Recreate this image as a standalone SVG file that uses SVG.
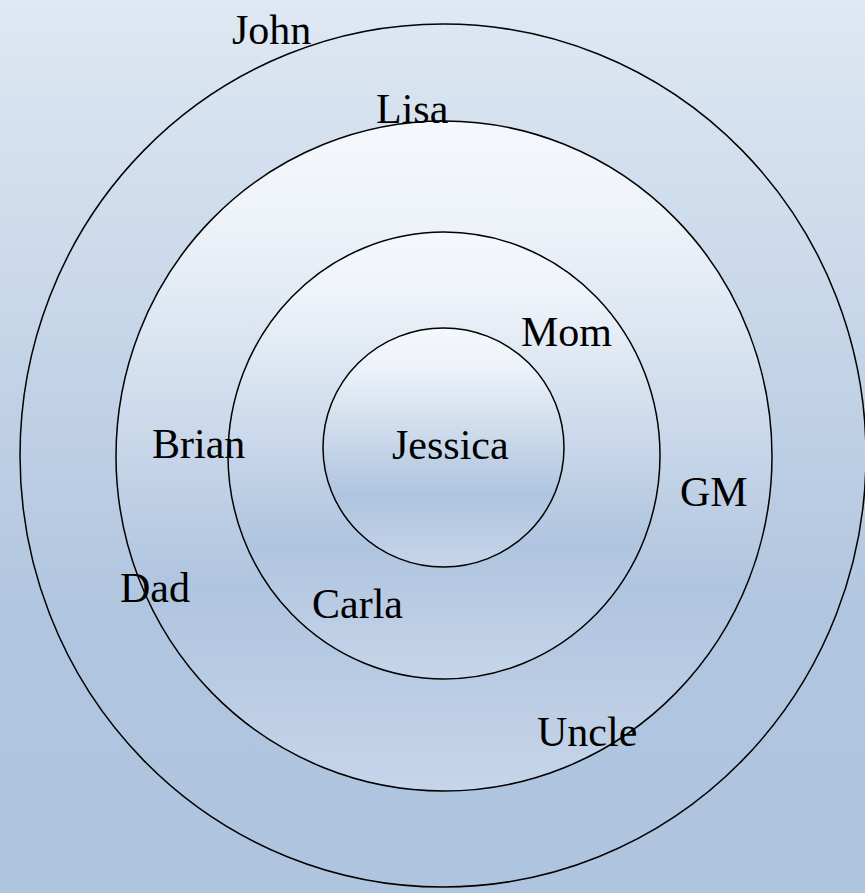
<svg xmlns="http://www.w3.org/2000/svg" width="865" height="893" viewBox="0 0 865 893">
  <defs>
    <linearGradient id="bg" x1="0" y1="0" x2="0" y2="1">
      <stop offset="0" stop-color="#dfe8f3"/>
      <stop offset="0.7" stop-color="#b0c5df"/>
      <stop offset="1" stop-color="#afc4df"/>
    </linearGradient>
    <linearGradient id="ring" x1="0" y1="0" x2="0" y2="1">
      <stop offset="0" stop-color="#f5f8fc"/>
      <stop offset="0.15" stop-color="#eef3f9"/>
      <stop offset="0.7" stop-color="#afc4df"/>
      <stop offset="1" stop-color="#c6d5e9"/>
    </linearGradient>
  </defs>
  <style>
    .c { stroke: #000; stroke-width: 1.5; }
    .t { font-family: "Liberation Serif", "Times New Roman", serif; font-size: 42px; fill: #000; }
  </style>
  <rect x="0" y="0" width="865" height="893" fill="url(#bg)"/>
  <g id="circle-john"><ellipse class="c" cx="443" cy="455.5" rx="423" ry="431.5" fill="none"/></g>
  <g id="circle-lisa"><ellipse class="c" cx="444" cy="456" rx="328" ry="335" fill="url(#ring)"/></g>
  <g id="circle-mom"><ellipse class="c" cx="444" cy="455.5" rx="216" ry="223.5" fill="url(#ring)"/></g>
  <g id="circle-jessica"><ellipse class="c" cx="443.5" cy="447.5" rx="120.5" ry="119.5" fill="url(#ring)"/></g>
  <g id="labels">
    <text class="t" x="232" y="44">John</text>
    <text class="t" x="376" y="123">Lisa</text>
    <text class="t" x="521" y="346">Mom</text>
    <text class="t" x="152" y="458">Brian</text>
    <text class="t" x="392" y="459">Jessica</text>
    <text class="t" x="680" y="506">GM</text>
    <text class="t" x="120" y="602">Dad</text>
    <text class="t" x="312" y="618">Carla</text>
    <text class="t" x="537" y="746">Uncle</text>
  </g>
</svg>
